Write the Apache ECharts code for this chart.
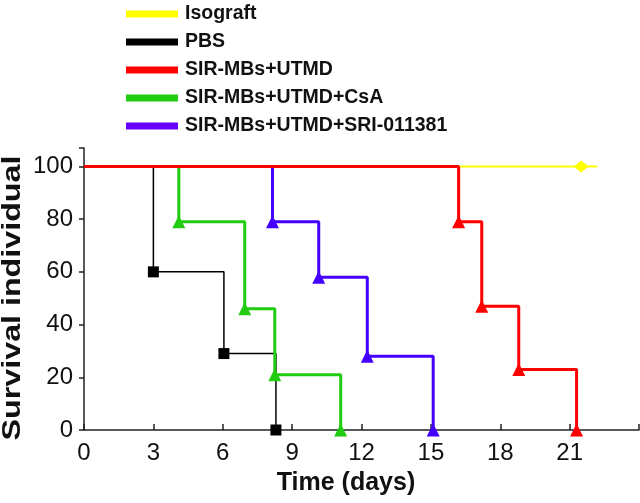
<!DOCTYPE html>
<html><head><meta charset="utf-8">
<script src="https://cdn.jsdelivr.net/npm/echarts@6/dist/echarts.min.js"></script>
<style>html,body{margin:0;padding:0;background:#fff}#c{width:640px;height:503px}</style>
</head><body><div id="c"></div>
<script>
const seriesNames = ['Isograft','PBS','SIR-MBs+UTMD','SIR-MBs+UTMD+CsA','SIR-MBs+UTMD+SRI-011381'];
const xTicks = [0,3,6,9,12,15,18,21];
const xTitle = 'Time (days)';
const yTitle = 'Survival individual';
const isograft = [[0,100],[21.5,100],[22.2,100]];
const pbs = [[0,100],[3,60],[6.05,29],[8.3,0]];
const utmd = [[0,100],[16.2,79],[17.2,47],[18.8,23],[21.3,0]];
const csa = [[0,100],[4.1,79],[6.95,46],[8.25,21],[11.1,0]];
const sri = [[0,100],[8.15,79],[10.15,58],[12.25,28],[15.1,0]];

const colors = ['#ffff00','#000000','#ff0000','#22cc11','#4400ff'];
const legendColors = ['#ffff00','#000000','#ff0000','#22cc11','#6600ff'];
const FF = 'Liberation Sans, Arial, sans-serif';

function mk(name, data, color, width, symbol, size, z, markIdx){
  return {
    name, type:'line', step:'end', z,
    data: data.map((p,i)=>({value:p, symbol: (markIdx ? markIdx.includes(i) : i>0) ? symbol : 'none', symbolSize:size})),
    lineStyle:{color, width},
    itemStyle:{color},
    showAllSymbol:true,
    animation:false,
    emphasis:{disabled:true}
  };
}

const chart = echarts.init(document.getElementById('c'));
chart.setOption({
  animation:false,
  grid:{left:84, right:1, top:148, bottom:73, containLabel:false, outerBoundsMode:'none'},
  legend:{
    orient:'vertical', left:126, top:3, padding:0, itemGap:6, itemWidth:52, itemHeight:7,
    icon:'rect', data: seriesNames.map((n,i)=>({name:n, itemStyle:{color:legendColors[i]}})),
    textStyle:{fontFamily:FF, fontWeight:'bold', fontSize:19.5, color:'#111', lineHeight:22, padding:[0,0,0,2]},
    itemStyle:{borderWidth:0},
    selectedMode:false
  },
  graphic:[
    {type:'text', x:346, y:483, silent:true,
     style:{text:xTitle, font:'bold 25px ' + FF, fill:'#111', textAlign:'center', textVerticalAlign:'middle'}},
    {type:'text', x:13, y:298, rotation:Math.PI/2, scaleX:1.24, silent:true,
     style:{text:yTitle, font:'bold 26px ' + FF, fill:'#111', textAlign:'center', textVerticalAlign:'middle'}}
  ],
  xAxis:{
    type:'value', min:0, max:24, interval:3,
    axisLine:{lineStyle:{color:'#222', width:1.5}},
    axisTick:{inside:true, length:6, lineStyle:{color:'#222', width:1.5}},
    axisLabel:{fontFamily:FF, fontSize:24, color:'#111', margin:11,
      formatter: v => xTicks.includes(v) ? String(v) : ''},
    splitLine:{show:false}
  },
  yAxis:{
    type:'value', min:0, max:107, interval:20,
    axisLine:{show:true, lineStyle:{color:'#222', width:1.5}},
    axisTick:{show:true, length:5, lineStyle:{color:'#222', width:1.5}},
    axisLabel:{fontFamily:FF, fontSize:24, color:'#111', margin:11,
      formatter: v => (v % 20 === 0 && v <= 100) ? String(v) : ''},
    splitLine:{show:false}
  },
  series:[
    mk(seriesNames[0], isograft, colors[0], 2, 'diamond', [15,12], 1, [1]),
    mk(seriesNames[1], pbs, colors[1], 1.5, 'rect', 11, 2),
    mk(seriesNames[3], csa, colors[3], 3, 'triangle', 13, 3),
    mk(seriesNames[4], sri, colors[4], 3, 'triangle', 13, 4),
    mk(seriesNames[2], utmd, colors[2], 3, 'triangle', 13, 5)
  ]
});
</script></body></html>
